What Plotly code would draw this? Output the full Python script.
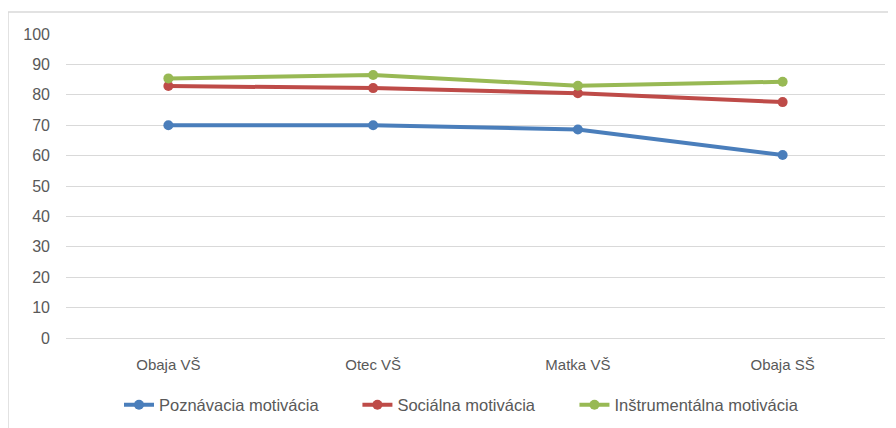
import plotly.graph_objects as go

categories = ["Obaja VŠ", "Otec VŠ", "Matka VŠ", "Obaja SŠ"]
poznavacia = [70.0, 70.0, 68.6, 60.2]
socialna = [82.9, 82.2, 80.5, 77.6]
instrumentalna = [85.4, 86.5, 83.0, 84.3]
series_names = ["Poznávacia motivácia", "Sociálna motivácia", "Inštrumentálna motivácia"]
colors = ["#4a7ebb", "#be4b48", "#98b954"]
y_ticks = list(range(0, 101, 10))

font_family = "Liberation Sans, Arial"
text_color = "#595959"
W, H = 888, 420  # page body has an 8px margin, so figure is 8px smaller
legend_ids = ["legend", "legend2", "legend3"]
legend_x = [0.1250, 0.3935, 0.6379]

fig = go.Figure()
for name, vals, col, lid in zip(series_names, [poznavacia, socialna, instrumentalna], colors, legend_ids):
    fig.add_trace(go.Scatter(
        x=categories, y=vals, name=name, mode="lines+markers",
        line=dict(color=col, width=4),
        marker=dict(color=col, size=10),
        legend=lid,
    ))

legend_common = dict(orientation="h", xref="container", yref="container",
                     y=0.0548, yanchor="middle", xanchor="left",
                     font=dict(size=16.5, color=text_color), bgcolor="rgba(0,0,0,0)")
layout_legends = {lid: dict(legend_common, x=lx) for lid, lx in zip(legend_ids, legend_x)}

fig.update_layout(
    width=W, height=H,
    margin=dict(l=58, r=11, t=26, b=90),
    paper_bgcolor="white", plot_bgcolor="white",
    font=dict(family=font_family, size=15, color=text_color),
    showlegend=True,
    shapes=[dict(type="rect", xref="paper", yref="paper",
                 x0=-0.0708, x1=1.03, y0=-0.35, y1=1.0724,
                 line=dict(color="#d9d9d9", width=1.5))],
    **layout_legends,
)
fig.update_xaxes(
    type="category", range=[-0.5, 3.5], automargin=False,
    showgrid=False, showline=True, linecolor="#d9d9d9", linewidth=1,
    ticks="", ticklabelstandoff=13,
    tickfont=dict(size=15, color=text_color),
)
fig.update_yaxes(
    range=[0, 100], tickvals=y_ticks, automargin=False,
    showgrid=True, gridcolor="#d9d9d9", gridwidth=1,
    zeroline=False, showline=False, ticks="", ticklabelstandoff=15,
    tickfont=dict(size=16, color=text_color),
)

fig.write_html("out.html")
